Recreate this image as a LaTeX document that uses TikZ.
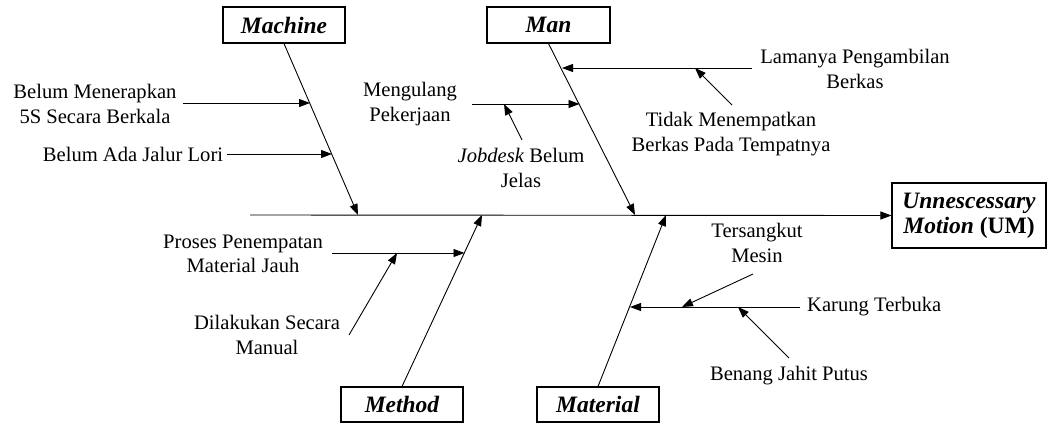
\documentclass[tikz,border=0pt]{standalone}
\usepackage{fontspec}
\setmainfont{Liberation Serif}
\usetikzlibrary{arrows.meta}
\begin{document}
\begin{tikzpicture}[x=1pt,y=-1pt,
  lbl/.style={inner sep=0pt,align=center,font=\fontsize{20.6}{24.5}\selectfont},
  catbox/.style={draw,line width=1.1pt,inner sep=0pt,font=\fontsize{23.5}{26}\selectfont\bfseries\itshape},
  effbox/.style={draw,line width=1.1pt,inner sep=0pt,align=center,font=\fontsize{23.5}{26}\selectfont\bfseries},
  arr/.style={line width=0.9pt,-{Triangle[length=11pt,width=8pt]}},
  bone/.style={line width=0.9pt,-{Triangle[length=11pt,width=8pt]}}]
\useasboundingbox (0,0) rectangle (1047,423);
% effect
\node[effbox,minimum width=154pt,minimum height=65pt] (UM) at (969,215.5) {\itshape Unnescessary\\[-1pt]\itshape Motion\upshape{} (UM)};
% categories
\node[catbox,minimum width=122pt,minimum height=36pt] (machine) at (284,25) {Machine};
\node[catbox,minimum width=123pt,minimum height=36pt] (man) at (548.5,25) {Man};
\node[catbox,minimum width=122pt,minimum height=35pt] (method) at (402,404.5) {Method};
\node[catbox,minimum width=122pt,minimum height=35pt] (material) at (598,404.5) {Material};
% spine
\coordinate (spL) at (250,215);
\draw[arr] (spL) -- (UM.west);
% bone tips
\coordinate (tMa) at (358,215);
\coordinate (tMn) at (635,215);
\coordinate (tMe) at (482,215);
\coordinate (tMt) at (666,215);
\draw[bone] (machine.south) -- (tMa);
\draw[bone] (man.south) -- (tMn);
\draw[bone] (method.north) -- (tMe);
\draw[bone] (material.north) -- (tMt);
% Machine causes
\node[lbl] (c1) at (95,104) {Belum Menerapkan\\5S Secara Berkala};
\node[lbl] (c2) at (133,154) {Belum Ada Jalur Lori};
\coordinate (c1s) at (183,103); \coordinate (c1e) at (310,103);
\coordinate (c2s) at (227,154); \coordinate (c2e) at (332,154);
\draw[arr] (c1s) -- (c1e);
\draw[arr] (c2s) -- (c2e);
% Man causes
\node[lbl] (c3) at (410,104) {Mengulang\\Pekerjaan};
\coordinate (c3s) at (472,104); \coordinate (c3e) at (579.5,104);
\draw[arr] (c3s) -- (c3e);
\node[lbl] (c4) at (521,168) {\textit{Jobdesk} Belum\\Jelas};
\coordinate (c4s) at (522,140); \coordinate (c4e) at (504,104);
\draw[arr] (c4s) -- (c4e);
\node[lbl] (c5) at (855,69) {Lamanya Pengambilan\\Berkas};
\coordinate (c5s) at (752,68); \coordinate (c5e) at (562,68);
\draw[arr] (c5s) -- (c5e);
\node[lbl] (c6) at (731,134) {Tidak Menempatkan\\Berkas Pada Tempatnya};
\coordinate (c6s) at (732,105); \coordinate (c6e) at (695,68);
\draw[arr] (c6s) -- (c6e);
% Method causes
\node[lbl] (c7) at (243,254) {Proses Penempatan\\Material Jauh};
\coordinate (c7s) at (332,253); \coordinate (c7e) at (464.5,253);
\draw[arr] (c7s) -- (c7e);
\node[lbl] (c8) at (267,335) {Dilakukan Secara\\Manual};
\coordinate (c8s) at (349,335); \coordinate (c8e) at (397,253);
\draw[arr] (c8s) -- (c8e);
% Material causes
\node[lbl] (c9) at (757,243) {Tersangkut\\Mesin};
\node[lbl,anchor=west] (c10) at (807,307) {Karung Terbuka};
\node[lbl] (c11) at (789,376) {Benang Jahit Putus};
\coordinate (c10s) at (800,307); \coordinate (c10e) at (630,307);
\draw[arr] (c10s) -- (c10e);
\coordinate (c9s) at (753,274); \coordinate (c9e) at (682,307);
\draw[arr] (c9s) -- (c9e);
\coordinate (c11s) at (789,358); \coordinate (c11e) at (738,307);
\draw[arr] (c11s) -- (c11e);
\end{tikzpicture}
\end{document}
